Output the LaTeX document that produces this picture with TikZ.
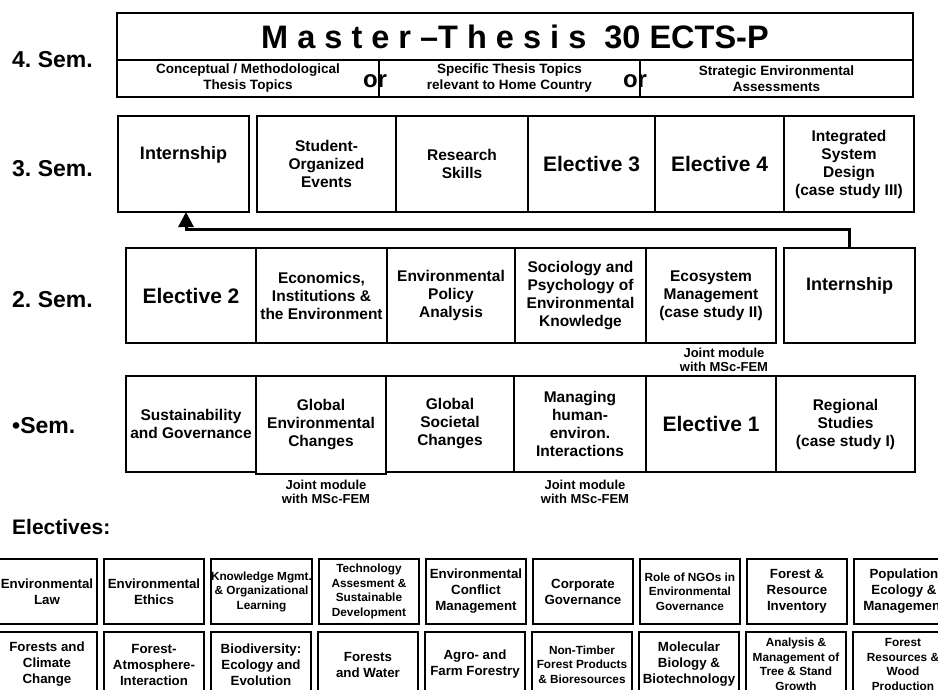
\documentclass[tikz,border=0pt]{standalone}
\usepackage{fontspec}
\setmainfont{Liberation Sans}
\usepackage{tikz}
\usetikzlibrary{arrows.meta}
\usetikzlibrary{positioning}

\newcommand{\semfont}{\fontsize{23}{27}\selectfont\bfseries}
\newcommand{\titlefont}{\fontsize{32.5}{38}\selectfont\bfseries}
\newcommand{\topicfont}{\fontsize{13.5}{16}\selectfont\bfseries}
\newcommand{\modfont}{\fontsize{15.5}{18}\selectfont\bfseries}
\newcommand{\bigmodfont}{\fontsize{21}{25}\selectfont\bfseries}
\newcommand{\internfont}{\fontsize{18}{21}\selectfont\bfseries}
\newcommand{\jointfont}{\fontsize{13}{14}\selectfont\bfseries}
\newcommand{\elecfont}{\fontsize{13.3}{16}\selectfont\bfseries}
\newcommand{\elecsmallfont}{\fontsize{11.8}{14.5}\selectfont\bfseries}

\tikzset{
  module/.style={draw, line width=1.2pt, minimum height=96pt, inner sep=0pt,
    outer sep=0pt, align=center, font=\modfont},
  bigmodule/.style={module, font=\bigmodfont},
  intern/.style={module, font=\internfont, text height=12pt, text depth=22pt},
  topic/.style={draw, line width=1.2pt, minimum height=37pt, inner sep=0pt,
    outer sep=0pt, align=center, font=\topicfont},
  orword/.style={inner sep=0pt, font=\fontsize{24}{26}\selectfont\bfseries},
  elec/.style={draw, line width=2pt, minimum width=100pt, minimum height=65pt,
    inner sep=0pt, outer sep=0pt, align=center, font=\elecfont},
  elecsmall/.style={elec, font=\elecsmallfont},
  semlabel/.style={anchor=west, inner sep=0pt, font=\semfont},
  joint/.style={align=center, inner sep=0pt, font=\jointfont},
  divider/.style={line width=2.6pt},
  flow/.style={line width=3pt, -{Triangle[width=15pt,length=15pt]}},
}

\begin{document}
\frenchspacing
\begin{tikzpicture}[x=1pt, y=-1pt]
  \useasboundingbox (0,0) rectangle (938,689);
  \clip (0,0) rectangle (938,689);
  \fill[white] (0,0) rectangle (938,689);

  % semester labels
  \node[semlabel] (sem4) at (12,60) {4. Sem.};
  \node[semlabel] (sem3) at (12,169) {3. Sem.};
  \node[semlabel] (sem2) at (12,300) {2. Sem.};
  \node[semlabel] (sem1) at (12,426) {•Sem.};
  \node[semlabel, font=\fontsize{21}{25}\selectfont\bfseries] (electives) at (12,527) {Electives:};

  % 4. semester
  \node[draw, line width=1.2pt, minimum width=796pt, minimum height=47pt, inner sep=0pt,
    outer sep=0pt, font=\titlefont] (thesis) at (515,36.5) {M a s t e r –T h e s i s~~30 ECTS-P};
  \node[topic, minimum width=262pt, anchor=north west] (topic1) at (thesis.south west)
    {Conceptual / Methodological\\Thesis Topics};
  \node[topic, minimum width=261pt, anchor=north west] (topic2) at (topic1.north east)
    {Specific Thesis Topics\\relevant to Home Country};
  \node[topic, minimum width=273pt, anchor=north west] (topic3) at (topic2.north east)
    {Strategic Environmental\\Assessments};
  \node[orword] (or1) at (375,81) {or};
  \node[orword] (or2) at (635,81) {or};
  \draw[divider] (thesis.north west) -- (topic1.south west);
  \draw[divider] (thesis.north east) -- (topic3.south east);
  \draw[divider] (thesis.north west) -- ++(6,0);
  \draw[divider] (thesis.north east) -- ++(-15,0);

  % 3. semester
  \node[intern, minimum width=131pt] (intern3) at (183.5,164) {Internship};
  \node[module, minimum width=139pt] (events) at (326.5,164) {Student-\\Organized\\Events};
  \node[module, minimum width=132pt, right=0pt of events] (skills) {Research\\Skills};
  \node[bigmodule, minimum width=127pt, right=0pt of skills] (elective3) {Elective 3};
  \node[bigmodule, minimum width=129pt, right=0pt of elective3] (elective4) {Elective 4};
  \node[module, minimum width=130pt, right=0pt of elective4] (design)
    {Integrated\\System\\Design\\(case study III)};
  \draw[divider] (elective3.north east) -- (elective3.south east);

  % 2. semester
  \node[bigmodule, minimum width=130pt, minimum height=95pt] (elective2) at (191,295.5) {Elective 2};
  \node[module, minimum width=131pt, minimum height=95pt, right=0pt of elective2] (economics)
    {Economics,\\Institutions \&\\the Environment};
  \node[module, minimum width=128pt, minimum height=95pt, right=0pt of economics] (policy)
    {Environmental\\Policy\\Analysis};
  \node[module, minimum width=131pt, minimum height=95pt, right=0pt of policy] (sociology)
    {Sociology and\\Psychology of\\Environmental\\Knowledge};
  \node[module, minimum width=130pt, minimum height=95pt, right=0pt of sociology] (ecosystem)
    {Ecosystem\\Management\\(case study II)};
  \node[intern, minimum width=131pt, minimum height=95pt] (intern2) at (849.5,295.5) {Internship};
  \draw[divider] (elective2.north east) -- (elective2.south east);
  \node[joint] (joint3) at (724,360) {Joint module\\with MSc-FEM};

  % 1. semester
  \node[module, minimum width=130pt] (sustain) at (191,424) {Sustainability\\and Governance};
  \node[module, minimum width=130pt, minimum height=98pt, anchor=north west] (globalenv)
    at (sustain.north east) {Global\\Environmental\\Changes};
  \node[module, minimum width=128pt, anchor=north west] (globalsoc) at (globalenv.north east)
    {Global\\Societal\\Changes};
  \node[module, minimum width=132pt, right=0pt of globalsoc] (managing)
    {Managing\\human-\\environ.\\Interactions};
  \node[bigmodule, minimum width=130pt, right=0pt of managing] (elective1) {Elective 1};
  \node[module, minimum width=139pt, right=0pt of elective1] (regional)
    {Regional\\Studies\\(case study I)};
  \draw[divider] (sustain.north east) -- (globalenv.south west);
  \node[joint] (joint1) at (326,492) {Joint module\\with MSc-FEM};
  \node[joint] (joint2) at (585,492) {Joint module\\with MSc-FEM};

  % internship moves
  \draw[flow] (intern2.north) -- ++(0,-19) -| ([xshift=2.5pt]intern3.south);

  % electives
  \node[elec] (envlaw) at (47,591.5) {Environmental\\Law};
  \node[elec, right=7pt of envlaw] (envethics) {Environmental\\Ethics};
  \node[elecsmall, right=7pt of envethics] (knowledge) {Knowledge Mgmt.\\\& Organizational\\Learning};
  \node[elecsmall, right=7pt of knowledge] (techassess) {Technology\\Assesment \&\\Sustainable\\Development};
  \node[elec, right=7pt of techassess] (conflict) {Environmental\\Conflict\\Management};
  \node[elec, right=7pt of conflict] (corporate) {Corporate\\Governance};
  \node[elecsmall, right=7pt of corporate] (ngos) {Role of NGOs in\\Environmental\\Governance};
  \node[elec, right=7pt of ngos] (inventory) {Forest \&\\Resource\\Inventory};
  \node[elec, right=7pt of inventory] (population) {Population\\Ecology \&\\Management};

  \node[elec, below=8pt of envlaw] (forclimate) {Forests and\\Climate\\Change};
  \node[elec, right=7pt of forclimate] (atmosphere) {Forest-\\Atmosphere-\\Interaction};
  \node[elec, right=7pt of atmosphere] (biodiv) {Biodiversity:\\Ecology and\\Evolution};
  \node[elec, right=7pt of biodiv] (water) {Forests\\and Water};
  \node[elec, right=7pt of water] (agro) {Agro- and\\Farm Forestry};
  \node[elecsmall, right=7pt of agro] (nontimber) {Non-Timber\\Forest Products\\\& Bioresources};
  \node[elec, right=7pt of nontimber] (molecular) {Molecular\\Biology \&\\Biotechnology};
  \node[elecsmall, right=7pt of molecular] (growth) {Analysis \&\\Management of\\Tree \& Stand\\Growth};
  \node[elecsmall, right=7pt of growth] (wood) {Forest\\Resources \&\\Wood\\Production};
\end{tikzpicture}
\end{document}
